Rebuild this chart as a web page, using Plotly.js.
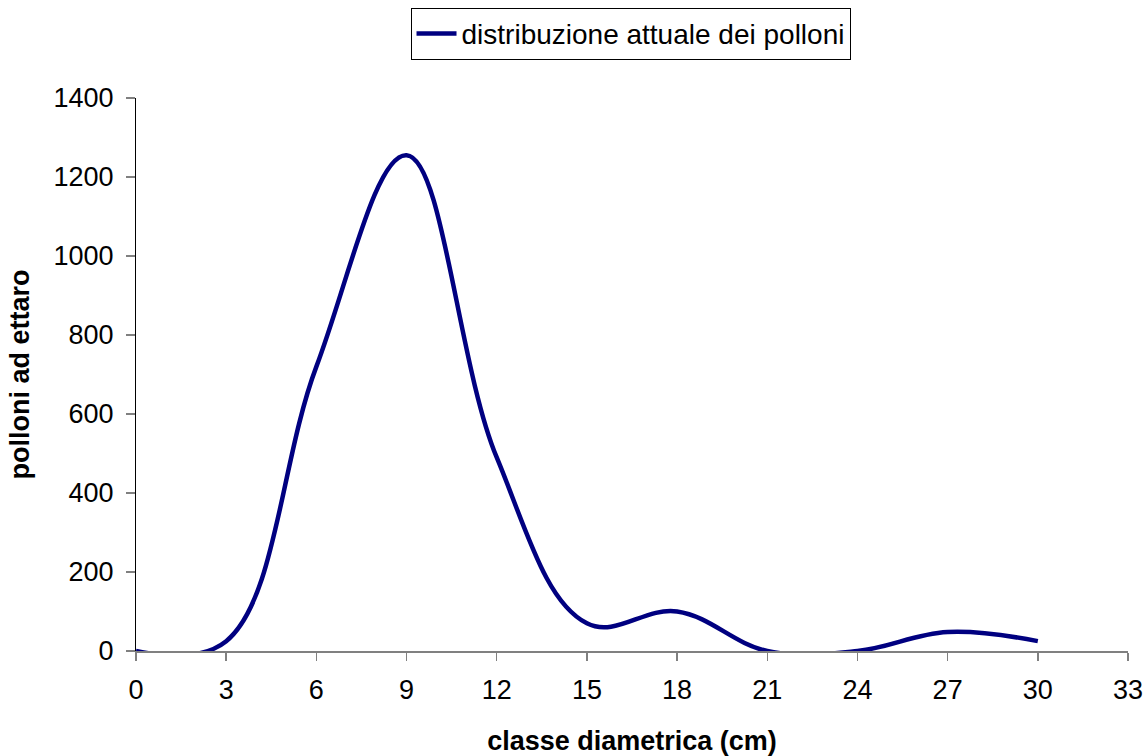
<!DOCTYPE html>
<html>
<head>
<meta charset="utf-8">
<script src="https://cdn.plot.ly/plotly-3.0.1.min.js"></script>
<style>html,body{margin:0;padding:0;background:#fff;}#chart{width:1148px;height:756px;}</style>
</head>
<body>
<div id="chart"></div>
<script>
const classi = [0, 3, 6, 9, 12, 15, 18, 21, 24, 27, 30];
const polloni = [0, 25, 720, 1255, 490, 70, 100, 0, 0, 48, 25];
const seriesName = "distribuzione attuale dei polloni";
const xTicks = [0, 3, 6, 9, 12, 15, 18, 21, 24, 27, 30, 33];
const yTicks = [0, 200, 400, 600, 800, 1000, 1200, 1400];

const font = "Liberation Sans, Arial, sans-serif";

Plotly.newPlot("chart", [{
  x: classi,
  y: polloni,
  type: "scatter",
  mode: "lines",
  name: seriesName,
  line: {color: "#000080", width: 4.5, shape: "spline", smoothing: 1.1}
}], {
  width: 1148,
  height: 756,
  margin: {l: 136, r: 20, t: 98, b: 105, autoexpand: false},
  paper_bgcolor: "#ffffff",
  plot_bgcolor: "#ffffff",
  font: {family: font, size: 27, color: "#000"},
  showlegend: true,
  legend: {
    x: 0.4985, xanchor: "center", xref: "paper",
    y: 1.163, yanchor: "top", yref: "paper",
    orientation: "h",
    bordercolor: "#000", borderwidth: 1,
    bgcolor: "#fff",
    itemwidth: 40,
    font: {family: font, size: 28, color: "#000"}
  },
  xaxis: {
    range: [0, 33],
    tickvals: xTicks,
    ticktext: xTicks.map(String),
    showgrid: false, zeroline: false,
    showline: true, linecolor: "#808080", linewidth: 1.5,
    ticks: "outside", ticklen: 8, tickcolor: "#808080", tickwidth: 1.5,
    ticklabelstandoff: 6,
    tickfont: {family: font, size: 27, color: "#000"},
    title: {text: "<b>classe diametrica (cm)</b>", font: {family: font, size: 27, color: "#000"}, standoff: 28}
  },
  yaxis: {
    range: [0, 1400],
    tickvals: yTicks,
    ticktext: yTicks.map(String),
    showgrid: false, zeroline: false,
    showline: true, linecolor: "#000", linewidth: 1,
    ticks: "outside", ticklen: 9, tickcolor: "#808080", tickwidth: 1.5,
    ticklabelstandoff: 7,
    tickfont: {family: font, size: 27, color: "#000"},
    title: {text: "<b>polloni ad ettaro</b>", font: {family: font, size: 27, color: "#000"}, standoff: 16}
  }
}, {displayModeBar: false, staticPlot: true});
</script>
</body>
</html>
